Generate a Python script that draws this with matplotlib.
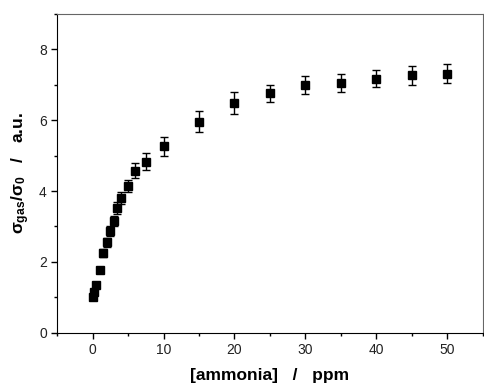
import numpy as np
import matplotlib
matplotlib.use("Agg")
import matplotlib.pyplot as plt
from matplotlib.ticker import MultipleLocator

# ammonia concentration (ppm) vs normalised conductance response
conc = [0, 0.25, 0.5, 1, 1.5, 2, 2.5, 3, 3.5, 4, 5, 6, 7.5, 10, 15, 20, 25, 30, 35, 40, 45, 50]
response = [1.02, 1.15, 1.35, 1.78, 2.25, 2.55, 2.87, 3.15, 3.52, 3.8, 4.14, 4.57, 4.83,
            5.27, 5.96, 6.5, 6.76, 7.0, 7.06, 7.17, 7.27, 7.31]
err = [0.05, 0.06, 0.07, 0.08, 0.1, 0.12, 0.13, 0.15, 0.16, 0.17, 0.18, 0.21, 0.24,
       0.27, 0.3, 0.31, 0.24, 0.25, 0.25, 0.24, 0.27, 0.27]

plt.rcParams['font.family'] = ['Liberation Sans', 'DejaVu Sans']
plt.rcParams['mathtext.fontset'] = 'custom'
plt.rcParams['mathtext.it'] = 'Liberation Sans:bold'
plt.rcParams['mathtext.rm'] = 'Liberation Sans:bold'
plt.rcParams['mathtext.bf'] = 'Liberation Sans:bold'

fig = plt.figure(figsize=(4.85, 3.9), dpi=100)
ax = fig.add_axes([0.118, 0.147, 0.877, 0.817])

ax.errorbar(conc, response, yerr=err, fmt='s', color='black', ms=6.3,
            ecolor='black', elinewidth=1, capsize=3, capthick=1)

ax.set_xlim(-5, 55)
ax.set_ylim(0, 9)
ax.xaxis.set_major_locator(MultipleLocator(10))
ax.xaxis.set_minor_locator(MultipleLocator(5))
ax.yaxis.set_major_locator(MultipleLocator(2))
ax.yaxis.set_minor_locator(MultipleLocator(1))
ax.tick_params(which='major', direction='out', length=4, width=1, labelsize=10, colors='black')
ax.tick_params(which='minor', direction='out', length=2.5, width=1)
ax.tick_params(labelcolor='#222222')

for s in ['left', 'bottom']:
    ax.spines[s].set_color('black')
for s in ['top', 'right']:
    ax.spines[s].set_color('#666666')

ax.set_xlabel('[ammonia]   /   ppm', fontsize=12.5, fontweight='bold', labelpad=8)
ax.set_ylabel(r'$\sigma_{gas}/\sigma_0$   /   a.u.', fontsize=12.5, fontweight='bold', labelpad=5)

fig.savefig('out.png', dpi=100)
